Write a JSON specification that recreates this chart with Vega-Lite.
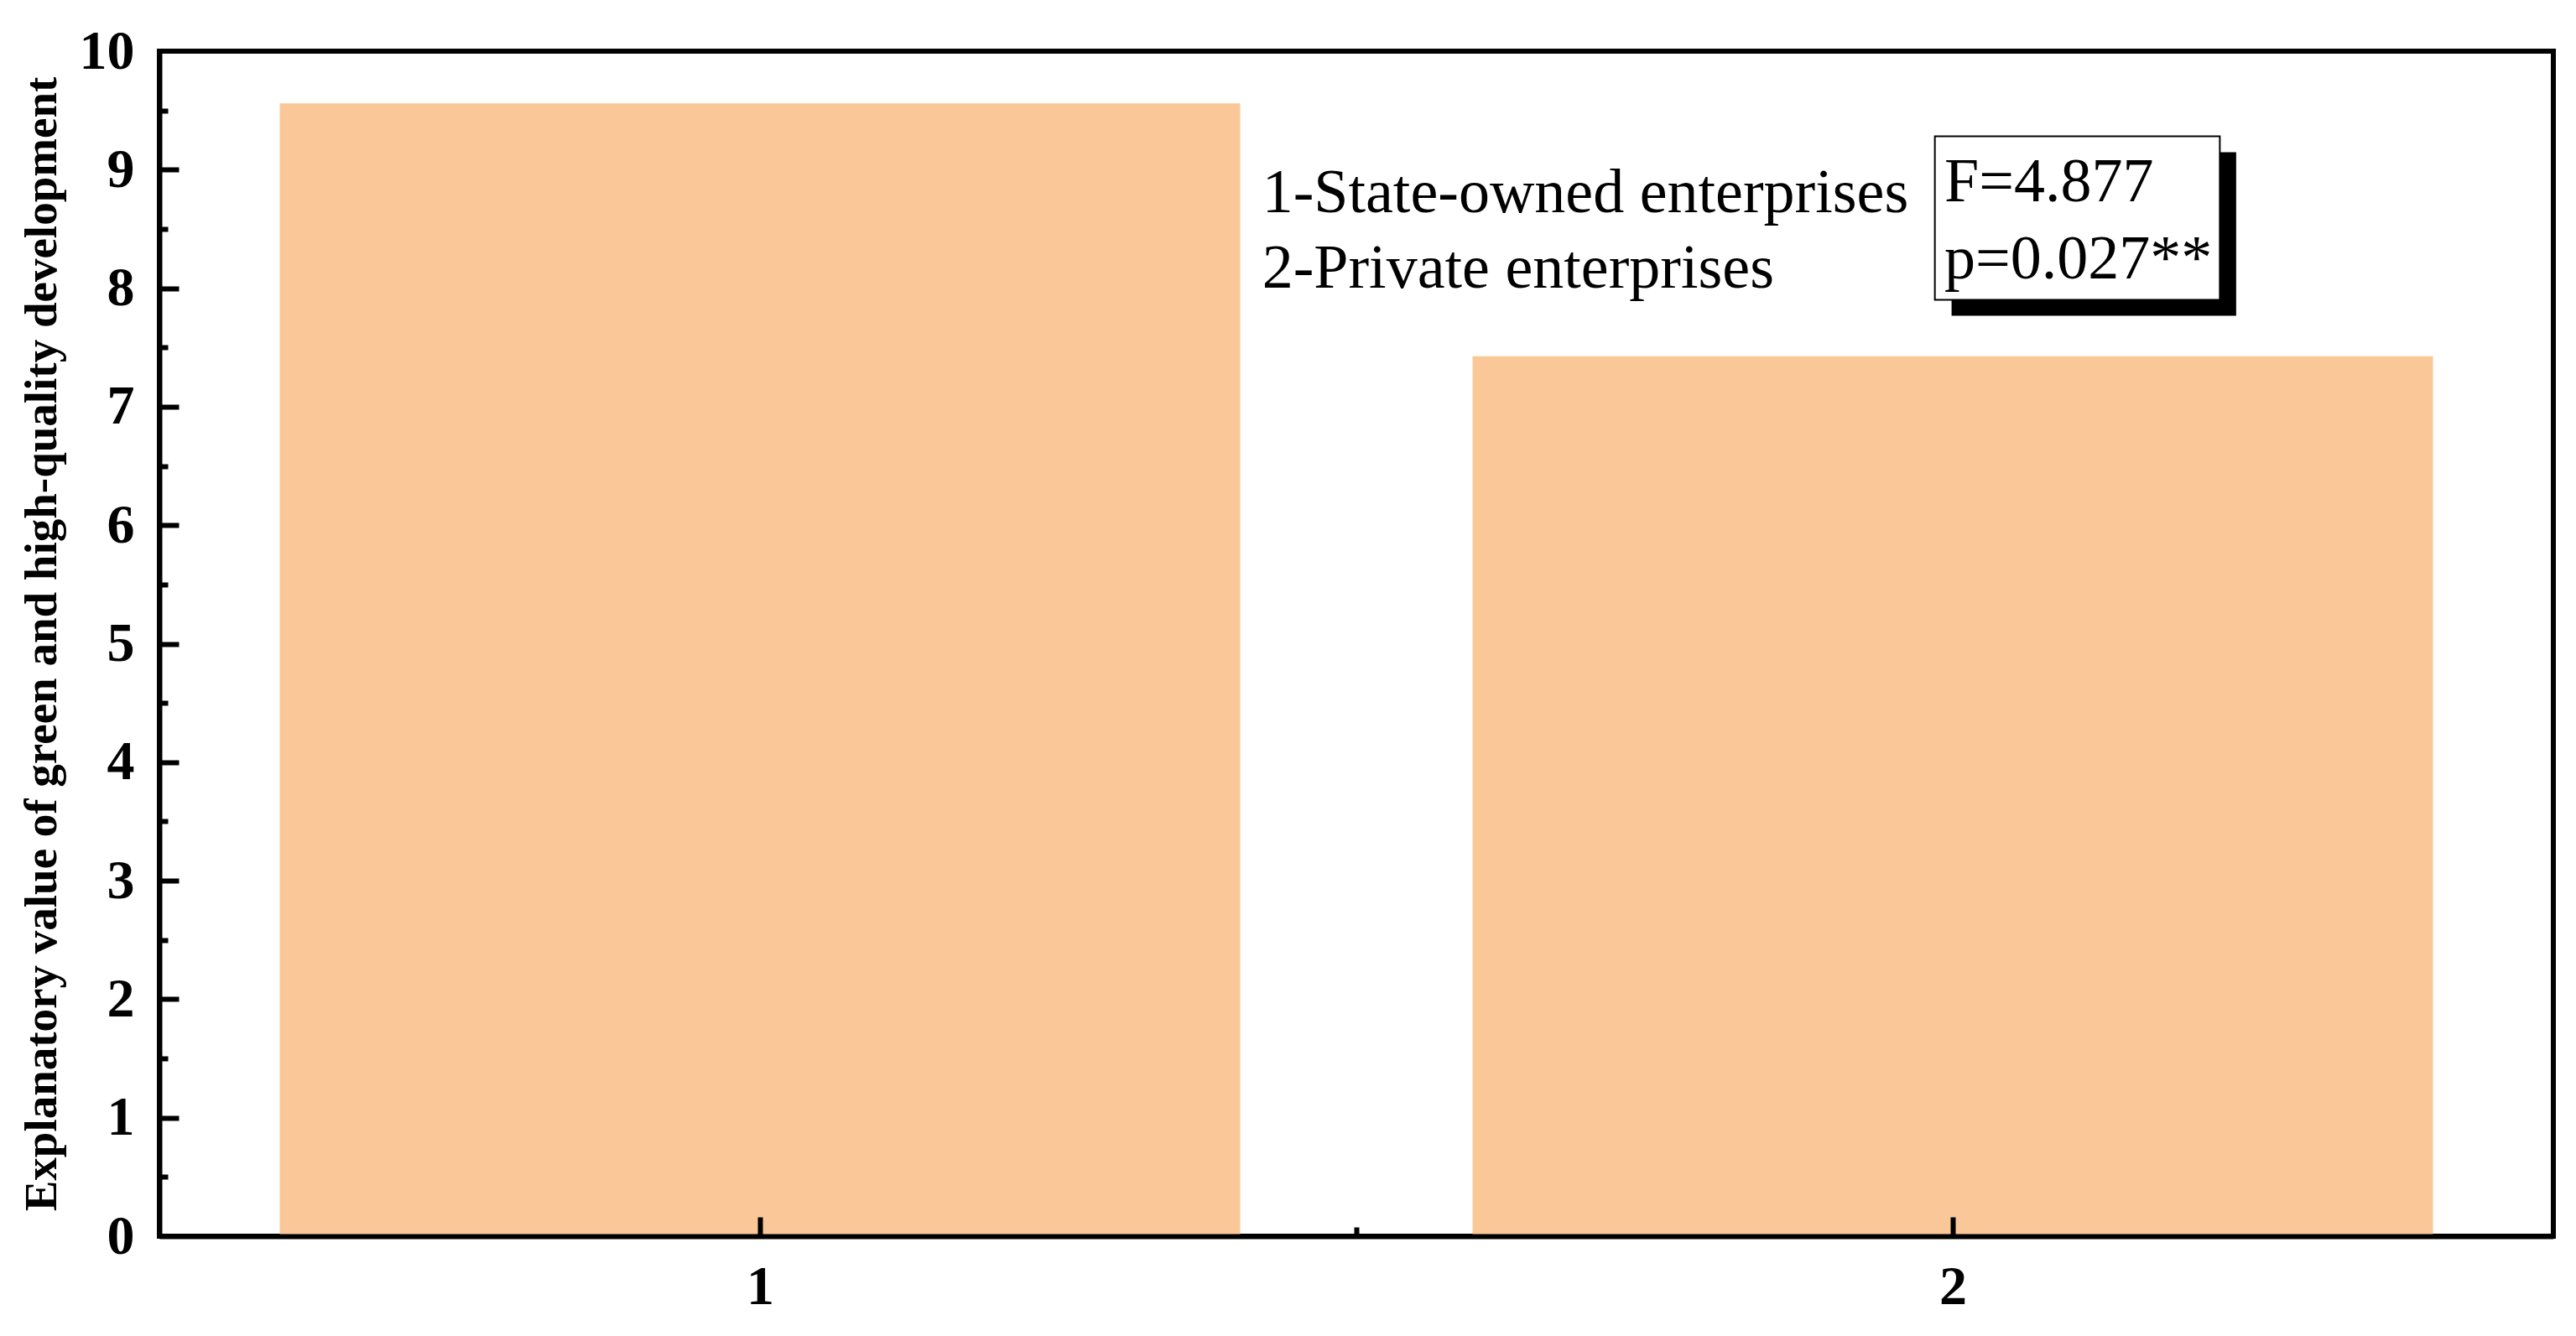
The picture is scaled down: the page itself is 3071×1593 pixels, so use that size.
{
  "$schema": "https://vega.github.io/schema/vega-lite/v6.json",
  "width": 2854,
  "height": 1413,
  "autosize": {"type": "none"},
  "padding": {"left": 190, "top": 61, "right": 27, "bottom": 119},
  "background": "white",
  "config": {
    "view": {"stroke": "black", "strokeWidth": 6},
    "axis": {
      "grid": false,
      "zindex": 1,
      "domainColor": "black",
      "domainWidth": 6,
      "tickColor": "black",
      "tickWidth": 6,
      "labelColor": "black",
      "titleColor": "black",
      "labelFont": "Liberation Serif",
      "titleFont": "Liberation Serif",
      "labelFlush": false
    }
  },
  "data": {"values": [
    {"group": 1, "value": 9.56},
    {"group": 2, "value": 7.425}
  ]},
  "resolve": {"axis": {"x": "independent", "y": "independent"}},
  "layer": [
    {
      "mark": {"type": "bar", "width": 1145, "color": "#FAC898"},
      "encoding": {
        "x": {
          "field": "group", "type": "quantitative",
          "scale": {"domain": [0.5, 2.5], "nice": false, "zero": false},
          "axis": {
            "orient": "bottom", "values": [1, 2], "format": "d", "title": null, "zindex": 1,
            "ticks": false, "labelPadding": 28, "labelFontSize": 66, "labelFontWeight": "bold"
          }
        },
        "y": {
          "field": "value", "type": "quantitative",
          "scale": {"domain": [0, 10], "nice": false, "zero": true},
          "axis": {
            "orient": "left", "values": [0, 1, 2, 3, 4, 5, 6, 7, 8, 9, 10], "format": "d", "zindex": 1,
            "title": "Explanatory value of green and high-quality development",
            "titleFontSize": 55, "titleFontWeight": "bold", "titlePadding": 16,
            "ticks": false, "labelPadding": 30, "labelFontSize": 66, "labelFontWeight": "bold"
          }
        }
      }
    },
    {
      "data": {"values": [{}]},
      "mark": {"type": "point", "opacity": 0},
      "encoding": {
        "x": {
          "datum": 1, "type": "quantitative",
          "axis": {"orient": "bottom", "values": [1, 2], "labels": false, "domain": false, "title": null, "tickSize": -23, "zindex": 1}
        },
        "y": {
          "datum": 5, "type": "quantitative",
          "axis": {"orient": "left", "values": [1, 2, 3, 4, 5, 6, 7, 8, 9], "labels": false, "domain": false, "title": null, "tickSize": -23, "zindex": 1}
        }
      }
    },
    {
      "data": {"values": [{}]},
      "mark": {"type": "point", "opacity": 0},
      "encoding": {
        "x": {
          "datum": 1.5, "type": "quantitative",
          "axis": {"orient": "bottom", "values": [1.5], "labels": false, "domain": false, "title": null, "tickSize": -11, "zindex": 1}
        },
        "y": {
          "datum": 5, "type": "quantitative",
          "axis": {"orient": "left", "values": [0.5, 1.5, 2.5, 3.5, 4.5, 5.5, 6.5, 7.5, 8.5, 9.5], "labels": false, "domain": false, "title": null, "tickSize": -10, "zindex": 1}
        }
      }
    },
    {
      "data": {"values": [{}]},
      "mark": {
        "type": "text", "align": "left", "baseline": "alphabetic",
        "font": "Liberation Serif", "fontSize": 74, "color": "black",
        "lineHeight": 90,
        "text": ["1-State-owned enterprises", "2-Private enterprises"]
      },
      "encoding": {
        "x": {"datum": 1.421, "type": "quantitative", "axis": null},
        "y": {"datum": 8.642, "type": "quantitative", "axis": null}
      }
    },
    {
      "data": {"values": [{}]},
      "mark": {"type": "rect", "color": "black"},
      "encoding": {
        "x": {"datum": 1.999, "type": "quantitative", "axis": null},
        "x2": {"datum": 2.2376},
        "y": {"datum": 9.147, "type": "quantitative", "axis": null},
        "y2": {"datum": 7.767}
      }
    },
    {
      "data": {"values": [{}]},
      "mark": {"type": "rect", "fill": "white", "stroke": "black", "strokeWidth": 2},
      "encoding": {
        "x": {"datum": 1.985, "type": "quantitative", "axis": null},
        "x2": {"datum": 2.2239},
        "y": {"datum": 9.281, "type": "quantitative", "axis": null},
        "y2": {"datum": 7.901}
      }
    },
    {
      "data": {"values": [{}]},
      "mark": {
        "type": "text", "align": "left", "baseline": "alphabetic",
        "font": "Liberation Serif", "fontSize": 74, "color": "black",
        "lineHeight": 92,
        "text": ["F=4.877", "p=0.027**"]
      },
      "encoding": {
        "x": {"datum": 1.993, "type": "quantitative", "axis": null},
        "y": {"datum": 8.734, "type": "quantitative", "axis": null}
      }
    }
  ]
}
